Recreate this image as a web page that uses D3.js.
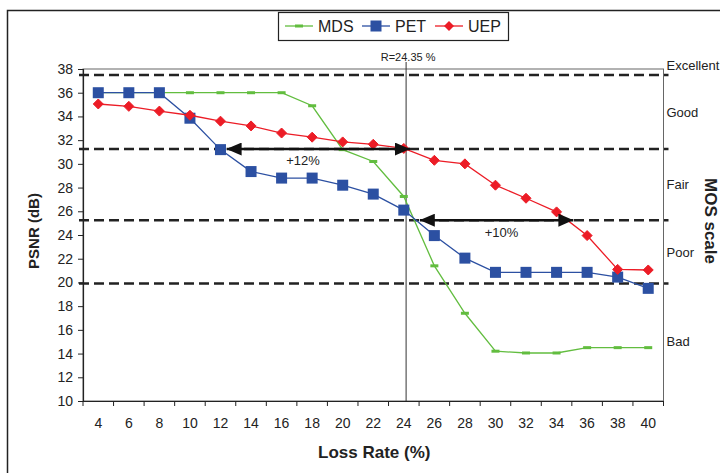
<!DOCTYPE html>
<html>
<head>
<meta charset="utf-8">
<script src="https://cdn.jsdelivr.net/npm/d3@7"></script>
<style>
  body { margin: 0; background: #fff; }
  text { font-family: "Liberation Sans", Arial, sans-serif; fill: #222; }
</style>
</head>
<body>
<div id="chart-area"></div>
<script>
/*
*    PSNR vs loss rate
*/

var lossRate = [4, 6, 8, 10, 12, 14, 16, 18, 20, 22, 24, 26, 28, 30, 32, 34, 36, 38, 40];
var mds = [36, 36, 36, 36, 36, 36, 36, 34.9, 31.2, 30.2, 27.25, 21.4, 17.4, 14.2, 14.05, 14.05, 14.5, 14.5, 14.5];
var pet = [36, 36, 36, 33.85, 31.2, 29.35, 28.8, 28.8, 28.2, 27.45, 26.1, 23.95, 22.05, 20.85, 20.85, 20.85, 20.85, 20.45, 19.5];
var uep = [35.05, 34.85, 34.45, 34.1, 33.6, 33.2, 32.6, 32.25, 31.85, 31.65, 31.3, 30.3, 30.0, 28.2, 27.1, 25.95, 23.95, 21.1, 21.05];
var yTicks = [10, 12, 14, 16, 18, 20, 22, 24, 26, 28, 30, 32, 34, 36, 38];

// MOS thresholds (dashed) and the labels on the right
var mosLines = [37.5, 31.25, 25.25, 19.9];
var mosNames = ["Excellent", "Good", "Fair", "Poor", "Bad"];
var mosLabelAt = [38.3, 34.3, 28.3, 22.5, 15];

// R marker and the two gain arrows
var rLabel = "R=24.35 %";
var rAt = 24.15;
var gainArrows = [
    {from: 12.4, to: 24.4, y: 31.25, label: "+12%", labelX: 17.4, labelY: 30.3},
    {from: 25.05, to: 35.1, y: 25.25, label: "+10%", labelX: 30.4, labelY: 24.2}
];

var series = [
    {name: "MDS", values: mds, color: "#62bd3f", marker: "dash"},
    {name: "PET", values: pet, color: "#2c50a2", marker: "square"},
    {name: "UEP", values: uep, color: "#ec1c26", marker: "diamond"}
];

var W = 720, H = 473;
var svg = d3.select("#chart-area").append("svg")
    .attr("width", W)
    .attr("height", H);

// outer chart border
svg.append("rect")
    .attr("x", 7.5).attr("y", 10.5)
    .attr("width", 730).attr("height", 480)
    .attr("fill", "none").attr("stroke", "#222").attr("stroke-width", 1.5);

var plotL = 83, plotR = 663.5, plotT = 69, plotB = 401;

var x = d3.scaleBand()
    .domain(lossRate.map(String))
    .range([plotL, plotR])
    .paddingInner(0)
    .paddingOuter(0);
var bw = x.bandwidth();
var cx = (d)=>{ return x(String(d)) + bw / 2; };

// continuous helper for the annotations
var xv = d3.scaleLinear()
    .domain([lossRate[0], lossRate[lossRate.length - 1]])
    .range([cx(lossRate[0]), cx(lossRate[lossRate.length - 1])]);

var y = d3.scaleLinear()
    .domain([10, 38])
    .range([plotB, plotT]);

// plot area frame
svg.append("rect")
    .attr("x", plotL).attr("y", plotT)
    .attr("width", plotR - plotL).attr("height", plotB - plotT)
    .attr("fill", "none").attr("stroke", "#666").attr("stroke-width", 1);

// y axis
var yAxis = svg.append("g")
    .attr("transform", "translate(" + plotL + ",0)")
    .call(d3.axisLeft(y).tickValues(yTicks).tickSize(5).tickPadding(5));
yAxis.select(".domain").attr("stroke", "#222").attr("stroke-width", 1.2);
yAxis.selectAll(".tick line").attr("stroke", "#222");
yAxis.selectAll(".tick text")
    .attr("font-size", 14)
    .attr("font-family", "Liberation Sans, Arial, sans-serif")
    .attr("fill", "#222");

// x axis: labels centred on categories, ticks between them
var xAxis = svg.append("g")
    .attr("transform", "translate(0," + plotB + ")")
    .call(d3.axisBottom(x).tickSize(0).tickPadding(17));
xAxis.select(".domain").attr("stroke", "#222").attr("stroke-width", 1.2);
xAxis.selectAll(".tick text")
    .attr("font-size", 14)
    .attr("font-family", "Liberation Sans, Arial, sans-serif")
    .attr("fill", "#222");
var edges = lossRate.map((d)=>{ return x(String(d)); }).concat([plotR]);
svg.append("g").selectAll("line")
    .data(edges)
    .enter().append("line")
    .attr("x1", (d)=>{ return d; }).attr("x2", (d)=>{ return d; })
    .attr("y1", plotB).attr("y2", plotB + 5)
    .attr("stroke", "#222");

// axis titles
svg.append("text")
    .attr("x", (plotL + plotR) / 2 + 1).attr("y", 458)
    .attr("text-anchor", "middle")
    .attr("font-size", 17).attr("font-weight", "bold")
    .text("Loss Rate (%)");

svg.append("text")
    .attr("transform", "translate(39,231) rotate(-90)")
    .attr("text-anchor", "middle")
    .attr("font-size", 15).attr("font-weight", "bold")
    .text("PSNR (dB)");

svg.append("text")
    .attr("transform", "translate(705,221) rotate(90)")
    .attr("text-anchor", "middle")
    .attr("font-size", 17).attr("font-weight", "bold")
    .text("MOS scale");

// MOS dashed thresholds
svg.append("g").selectAll("line")
    .data(mosLines)
    .enter().append("line")
    .attr("x1", plotL - 4).attr("x2", plotR + 5)
    .attr("y1", (d)=>{ return y(d); }).attr("y2", (d)=>{ return y(d); })
    .attr("stroke", "#222").attr("stroke-width", 2.5)
    .attr("stroke-dasharray", "10,5");

svg.append("g").selectAll("text")
    .data(mosNames)
    .enter().append("text")
    .attr("x", plotR + 3)
    .attr("y", (d, i)=>{ return y(mosLabelAt[i]); })
    .attr("dy", "0.35em")
    .attr("font-size", 13)
    .text((d)=>{ return d; });

// R vertical marker
svg.append("line")
    .attr("x1", xv(rAt)).attr("x2", xv(rAt))
    .attr("y1", plotT - 7).attr("y2", plotB)
    .attr("stroke", "#333").attr("stroke-width", 1);
svg.append("text")
    .attr("x", xv(rAt) + 2).attr("y", 61)
    .attr("text-anchor", "middle")
    .attr("font-size", 11)
    .text(rLabel);

// series
var line = d3.line()
    .x((d, i)=>{ return cx(lossRate[i]); })
    .y((d)=>{ return y(d); });

series.forEach((s)=>{
    var g = svg.append("g");
    g.append("path")
        .attr("d", line(s.values))
        .attr("fill", "none")
        .attr("stroke", s.color)
        .attr("stroke-width", 1.3);
    var pts = g.selectAll(".pt").data(s.values).enter();
    if (s.marker === "square") {
        pts.append("rect")
            .attr("x", (d, i)=>{ return cx(lossRate[i]) - 5.5; })
            .attr("y", (d)=>{ return y(d) - 5.5; })
            .attr("width", 11).attr("height", 11)
            .attr("fill", s.color);
    } else if (s.marker === "diamond") {
        pts.append("path")
            .attr("d", "M0,-5 L5,0 L0,5 L-5,0 Z")
            .attr("transform", (d, i)=>{ return "translate(" + cx(lossRate[i]) + "," + y(d) + ")"; })
            .attr("fill", s.color).attr("stroke", s.color).attr("stroke-width", 1);
    } else {
        pts.append("rect")
            .attr("x", (d, i)=>{ return cx(lossRate[i]) - 4; })
            .attr("y", (d)=>{ return y(d) - 1.5; })
            .attr("width", 8).attr("height", 3)
            .attr("fill", s.color);
    }
});

// gain arrows
var defs = svg.append("defs");
defs.append("marker")
    .attr("id", "head")
    .attr("viewBox", "0 0 15 13")
    .attr("refX", 15).attr("refY", 6.5)
    .attr("markerWidth", 15).attr("markerHeight", 13)
    .attr("markerUnits", "userSpaceOnUse")
    .attr("orient", "auto-start-reverse")
    .append("path")
    .attr("d", "M0,0 L15,6.5 L0,13 Z")
    .attr("fill", "#111");

gainArrows.forEach((a)=>{
    svg.append("line")
        .attr("x1", xv(a.from)).attr("x2", xv(a.to))
        .attr("y1", y(a.y)).attr("y2", y(a.y))
        .attr("stroke", "#111").attr("stroke-width", 2.5)
        .attr("marker-start", "url(#head)")
        .attr("marker-end", "url(#head)");
    svg.append("text")
        .attr("x", xv(a.labelX)).attr("y", y(a.labelY))
        .attr("dy", "0.35em")
        .attr("text-anchor", "middle")
        .attr("font-size", 13)
        .text(a.label);
});

// legend
var lg = svg.append("g");
lg.append("rect")
    .attr("x", 278.5).attr("y", 12.5)
    .attr("width", 230).attr("height", 28)
    .attr("fill", "#fff").attr("stroke", "#222").attr("stroke-width", 1.2);
var legendX = [285, 362, 435];
series.forEach((s, i)=>{
    var lx = legendX[i], ly = 26;
    lg.append("line")
        .attr("x1", lx).attr("x2", lx + 28)
        .attr("y1", ly).attr("y2", ly)
        .attr("stroke", s.color).attr("stroke-width", 1.3);
    if (s.marker === "square") {
        lg.append("rect").attr("x", lx + 14 - 5.5).attr("y", ly - 5.5)
            .attr("width", 11).attr("height", 11).attr("fill", s.color);
    } else if (s.marker === "diamond") {
        lg.append("path").attr("d", "M0,-5 L5,0 L0,5 L-5,0 Z")
            .attr("transform", "translate(" + (lx + 14) + "," + ly + ")")
            .attr("fill", s.color);
    } else {
        lg.append("rect").attr("x", lx + 10).attr("y", ly - 1.5)
            .attr("width", 8).attr("height", 3).attr("fill", s.color);
    }
    lg.append("text")
        .attr("x", lx + 33).attr("y", ly)
        .attr("dy", "0.36em")
        .attr("font-size", 16)
        .text(s.name);
});
</script>
</body>
</html>
